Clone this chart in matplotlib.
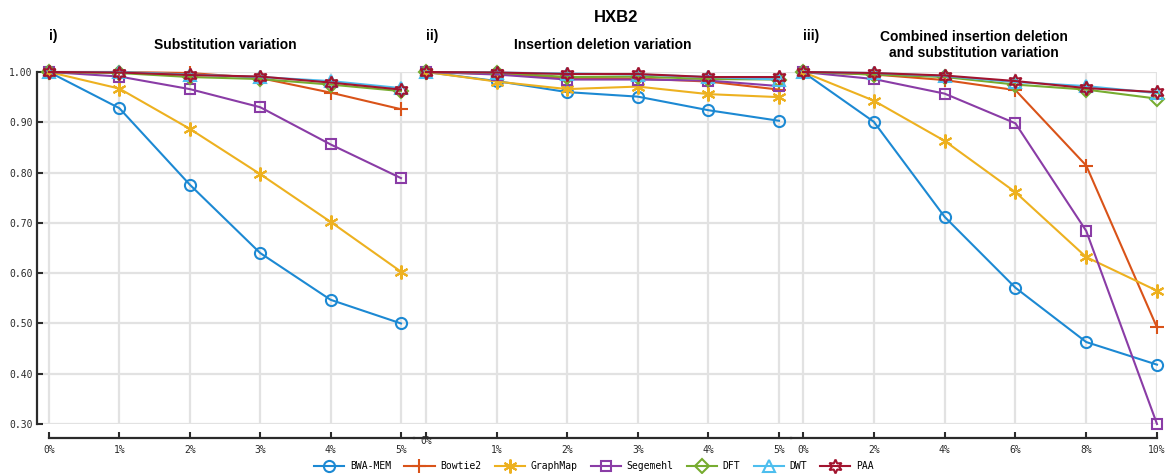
import matplotlib
matplotlib.use("Agg")
import matplotlib.pyplot as plt

# accuracy per aligner under increasing variation
tools = ["BWA-MEM", "Bowtie2", "GraphMap", "Segemehl", "DFT", "DWT", "PAA"]
colors = ["#1c89d3", "#d95319", "#edb120", "#8a3ca6", "#77ac30", "#4dbeee", "#a2142f"]
markers = ["o", "+", (6, 2, 0), "s", "D", "^", (6, 1, 0)]
msizes = [8, 10, 10, 7, 7.5, 8, 10]

sub_x = [0, 1, 2, 3, 4, 5]
sub_y = [
    [1.000, 0.928, 0.776, 0.640, 0.547, 0.500],
    [1.000, 1.000, 0.998, 0.988, 0.959, 0.926],
    [1.000, 0.967, 0.887, 0.797, 0.702, 0.603],
    [1.000, 0.991, 0.966, 0.930, 0.856, 0.789],
    [1.000, 0.998, 0.990, 0.986, 0.975, 0.962],
    [1.000, 1.000, 0.995, 0.990, 0.982, 0.968],
    [1.000, 0.999, 0.994, 0.991, 0.979, 0.965],
]

indel_x = [0, 1, 2, 3, 4, 5]
indel_y = [
    [1.000, 0.982, 0.960, 0.951, 0.924, 0.903],
    [1.000, 0.996, 0.988, 0.987, 0.981, 0.965],
    [1.000, 0.981, 0.966, 0.971, 0.956, 0.950],
    [1.000, 0.995, 0.985, 0.985, 0.983, 0.972],
    [1.000, 0.999, 0.990, 0.991, 0.986, 0.985],
    [1.000, 0.999, 0.997, 0.995, 0.990, 0.985],
    [1.000, 0.999, 0.996, 0.996, 0.990, 0.990],
]

comb_x = [0, 2, 4, 6, 8, 10]
comb_y = [
    [1.000, 0.901, 0.712, 0.571, 0.463, 0.418],
    [1.000, 0.995, 0.984, 0.964, 0.814, 0.492],
    [1.000, 0.943, 0.863, 0.761, 0.632, 0.565],
    [1.000, 0.986, 0.957, 0.898, 0.684, 0.300],
    [1.000, 0.995, 0.990, 0.975, 0.965, 0.947],
    [1.000, 0.998, 0.992, 0.980, 0.972, 0.958],
    [1.000, 0.998, 0.993, 0.982, 0.968, 0.960],
]

y_ticks = [0.30, 0.40, 0.50, 0.60, 0.70, 0.80, 0.90, 1.00]

MONO = "DejaVu Sans Mono"
SANS = "Liberation Sans"
INK = "#2b2b2b"

plt.rcParams["font.family"] = MONO
plt.rcParams["font.size"] = 7

fig = plt.figure(figsize=(11.68, 4.74), dpi=100)
W, H = 1168, 474

def add_panel(x0, x1):
    return fig.add_axes([x0 / W, (H - 424) / H, (x1 - x0) / W, 352 / H])

ax1 = add_panel(37, 414)
ax2 = add_panel(414, 791)
ax3 = add_panel(791, 1157)

panels = [
    (ax1, sub_x, sub_y, (-0.17, 5.185), "i)", "Substitution variation"),
    (ax2, indel_x, indel_y, (-0.17, 5.17), "ii)", "Insertion deletion variation"),
    (ax3, comb_x, comb_y, (-0.34, 10.0), "iii)",
     "Combined insertion deletion\nand substitution variation"),
]

for ax, xs, ys, xlim, tag, title in panels:
    for i, name in enumerate(tools):
        ax.plot(xs, ys[i], color=colors[i], marker=markers[i], ms=msizes[i],
                mfc="none", mec=colors[i], mew=1.5, lw=1.5, label=name,
                clip_on=False, zorder=3 + i)
    ax.set_xlim(*xlim)
    ax.set_ylim(0.30, 1.00)
    ax.grid(True, color="#e2e2e2", lw=1.6, zorder=0)
    ax.set_axisbelow(True)
    for s in ["top", "right", "left"]:
        ax.spines[s].set_visible(False)
    ax.spines["bottom"].set_position(("outward", 10))
    ax.spines["bottom"].set_color(INK)
    ax.spines["bottom"].set_linewidth(1.6)
    ax.tick_params(axis="x", direction="in", length=4, width=1.5,
                   color=INK, labelcolor=INK, labelsize=7, pad=5)
    ax.tick_params(axis="y", left=False, labelleft=False)
    ax.set_xticks(xs)
    ax.set_xticklabels([f"{v}%" for v in xs])
    ax.set_yticks(y_ticks)
    ax.text(0.5, 1.077, title, transform=ax.transAxes, ha="center",
            va="center", fontfamily=SANS, fontweight="bold", fontsize=10,
            linespacing=1.25)
    ax.text(0, 1.102, tag, transform=ax.get_xaxis_transform(), ha="left",
            va="center", fontfamily=SANS, fontweight="bold", fontsize=10)

# first panel keeps the y axis
ax1.spines["left"].set_visible(True)
ax1.spines["left"].set_color(INK)
ax1.spines["left"].set_linewidth(1.6)
ax1.spines["bottom"].set_bounds(0, 5.185)
ax1.tick_params(axis="y", left=True, labelleft=True, direction="in",
                length=4, width=1.5, color=INK, labelcolor=INK,
                labelsize=7, pad=3)
ax1.set_yticklabels([f"{v:.2f}" for v in y_ticks])

# middle panel's 0% label sits a little higher
labels2 = [f"{v}%" for v in indel_x]
labels2[0] = ""
ax2.set_xticklabels(labels2)
ax2.annotate("0%", xy=(0, 0), xycoords=ax2.get_xaxis_transform(),
             xytext=(0, -12.5), textcoords="offset points", ha="center",
             va="center", fontsize=7, color=INK)

fig.text(616 / W, 1 - 17.5 / H, "HXB2", ha="center", va="center",
         fontfamily=SANS, fontweight="bold", fontsize=12)

handles, names = ax1.get_legend_handles_labels()
fig.legend(handles, names, loc="center", bbox_to_anchor=(594 / W, 8 / H),
           ncol=7, frameon=False, prop={"family": MONO, "size": 7},
           handlelength=3.1, handletextpad=0.6, columnspacing=1.35,
           borderpad=0)

fig.savefig("out.png", dpi=100)
